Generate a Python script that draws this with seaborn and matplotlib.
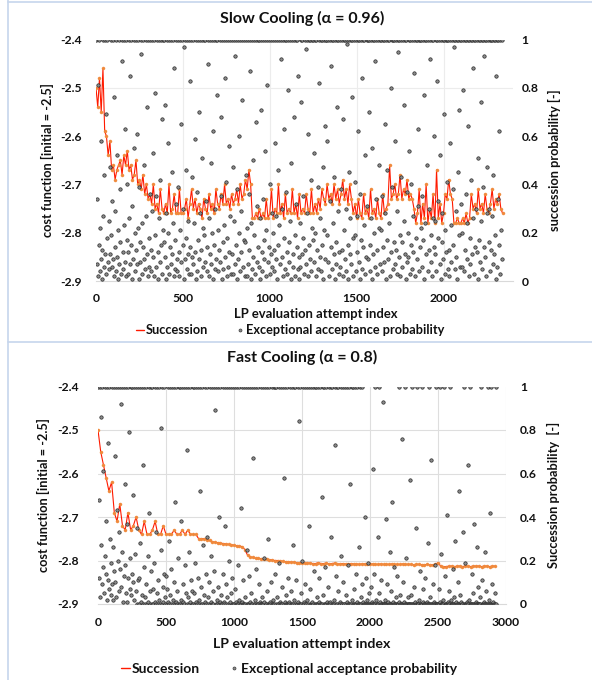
import numpy as np
import matplotlib.pyplot as plt
import seaborn as sns
from matplotlib.lines import Line2D

sns.set_theme(style="white")
plt.rcParams['font.family'] = ['Lato', 'DejaVu Sans']

TEXT = '#111111'
LINE_RED = '#ff1a00'
MARK_ORANGE = '#f08a3c'
DOT_FILL = '#8c8c8c'
DOT_EDGE = '#262626'

# iteration step between stored values
SLOW_COST_STEP = 10
SLOW_PROB_STEP = 3
FAST_COST_STEP = 20
FAST_PROB_STEP = 4

# slow cooling: cost function (succession), every 10th attempt
slow_cost = [
    -2.50, -2.54, -2.48, -2.55, -2.46, -2.59, -2.60, -2.64, -2.61, -2.67,
    -2.66, -2.69, -2.67, -2.66, -2.65, -2.68, -2.64, -2.66, -2.63, -2.67,
    -2.66, -2.69, -2.68, -2.65, -2.70, -2.69, -2.71, -2.68, -2.72, -2.70,
    -2.73, -2.72, -2.74, -2.70, -2.75, -2.74, -2.76, -2.71, -2.75, -2.76,
    -2.74, -2.76, -2.70, -2.76, -2.75, -2.72, -2.76, -2.76, -2.71, -2.76,
    -2.76, -2.75, -2.73, -2.77, -2.74, -2.71, -2.75, -2.73, -2.76, -2.74,
    -2.75, -2.77, -2.73, -2.75, -2.76, -2.72, -2.75, -2.74, -2.76, -2.71,
    -2.74, -2.75, -2.72, -2.74, -2.70, -2.74, -2.73, -2.75, -2.72, -2.74,
    -2.73, -2.71, -2.74, -2.70, -2.73, -2.72, -2.69, -2.71, -2.67, -2.70,
    -2.77, -2.77, -2.76, -2.77, -2.75, -2.77, -2.76, -2.77, -2.73, -2.77,
    -2.76, -2.71, -2.77, -2.75, -2.76, -2.70, -2.76, -2.74, -2.77, -2.72,
    -2.76, -2.75, -2.76, -2.71, -2.76, -2.74, -2.77, -2.72, -2.76, -2.75,
    -2.76, -2.72, -2.75, -2.76, -2.71, -2.76, -2.74, -2.76, -2.73, -2.75,
    -2.71, -2.73, -2.74, -2.70, -2.73, -2.72, -2.74, -2.70, -2.73, -2.71,
    -2.74, -2.72, -2.69, -2.73, -2.71, -2.74, -2.70, -2.73, -2.76, -2.74,
    -2.77, -2.73, -2.76, -2.77, -2.72, -2.76, -2.75, -2.77, -2.71, -2.76,
    -2.75, -2.77, -2.73, -2.76, -2.77, -2.72, -2.76, -2.75, -2.74, -2.66,
    -2.73, -2.72, -2.70, -2.73, -2.72, -2.68, -2.73, -2.71, -2.72, -2.69,
    -2.73, -2.72, -2.73, -2.75, -2.78, -2.76, -2.71, -2.78, -2.74, -2.77,
    -2.70, -2.78, -2.75, -2.77, -2.72, -2.78, -2.67, -2.77, -2.74, -2.78,
    -2.76, -2.72, -2.73, -2.69, -2.72, -2.73, -2.78, -2.78, -2.77, -2.78,
    -2.78, -2.77, -2.78, -2.76, -2.78, -2.77, -2.72, -2.75, -2.74, -2.76,
    -2.71, -2.75, -2.74, -2.76, -2.72, -2.75, -2.76, -2.74, -2.71, -2.75,
    -2.73, -2.74, -2.72, -2.75, -2.76,
]

# slow cooling: exceptional acceptance probability in %, every 3rd attempt
slow_prob_pct = [
    100, 7, 34, 2, 81, 15, 100, 4, 22, 9, 58, 1, 13, 100, 27, 6, 44, 100, 11, 3, 69, 18, 100, 8, 25, 5,
    11, 47, 100, 19, 6, 33, 9, 100, 2, 76, 14, 29, 100, 4, 10, 52, 21, 1, 100, 7, 38, 16, 3, 91, 100, 12,
    5, 23, 100, 63, 8, 2, 100, 17, 40, 12, 3, 100, 26, 85, 7, 15, 100, 1, 31, 9, 55, 100, 20, 4, 13, 100,
    7, 61, 22, 100, 39, 1, 16, 8, 100, 94, 24, 3, 14, 100, 48, 9, 5, 100, 27, 11, 72, 2, 100, 18, 6, 36,
    100, 13, 4, 29, 100, 53, 10, 2, 100, 19, 78, 6, 35, 100, 12, 1, 26, 100, 42, 8, 15, 100, 3, 67, 21, 100,
    16, 100, 73, 10, 1, 28, 100, 6, 20, 57, 100, 3, 14, 7, 100, 45, 11, 24, 100, 2, 88, 17, 5, 100, 32, 9,
    4, 100, 39, 12, 2, 100, 21, 65, 8, 100, 30, 15, 1, 97, 100, 9, 18, 46, 100, 5, 25, 11, 100, 3, 83, 14,
    100, 3, 10, 43, 100, 7, 24, 59, 12, 100, 1, 37, 4, 100, 17, 70, 9, 100, 28, 2, 13, 100, 51, 6, 22, 100,
    19, 8, 100, 33, 4, 14, 100, 90, 26, 2, 100, 11, 49, 7, 100, 20, 1, 62, 100, 15, 5, 30, 100, 9, 77, 100,
    21, 4, 13, 100, 8, 68, 35, 100, 1, 16, 5, 100, 23, 10, 84, 100, 41, 2, 18, 100, 6, 56, 12, 100, 27, 3,
    100, 11, 47, 3, 100, 25, 7, 93, 100, 15, 1, 38, 100, 9, 20, 60, 100, 4, 29, 12, 100, 75, 6, 17, 100, 2,
    16, 44, 100, 2, 22, 100, 7, 36, 13, 100, 87, 1, 24, 100, 5, 50, 10, 100, 19, 3, 100, 66, 31, 8, 100, 14,
    6, 100, 26, 1, 100, 71, 12, 4, 100, 34, 17, 9, 100, 54, 2, 21, 100, 81, 8, 14, 100, 3, 40, 100, 11, 28,
    6, 20, 100, 13, 4, 57, 100, 27, 9, 100, 1, 46, 15, 100, 23, 7, 92, 100, 10, 30, 2, 100, 63, 18, 5, 100,
    37, 100, 12, 3, 79, 100, 16, 8, 100, 25, 1, 49, 100, 11, 6, 100, 68, 19, 2, 100, 32, 14, 100, 85, 5, 10,
    1, 24, 6, 100, 74, 11, 100, 18, 35, 3, 100, 13, 96, 7, 100, 28, 2, 61, 100, 15, 9, 100, 42, 4, 22, 100,
    17, 100, 53, 8, 100, 20, 2, 100, 13, 39, 5, 100, 82, 10, 26, 100, 4, 15, 100, 47, 1, 21, 100, 9, 64, 100,
    100, 19, 58, 100, 8, 2, 33, 100, 14, 89, 100, 5, 24, 100, 11, 43, 1, 100, 16, 7, 100, 72, 29, 100, 3, 12,
    6, 100, 38, 13, 100, 2, 67, 100, 21, 9, 100, 4, 30, 98, 100, 15, 1, 100, 45, 11, 26, 100, 7, 76, 100, 18,
    2, 100, 19, 41, 4, 100, 12, 27, 100, 62, 8, 100, 36, 1, 17, 100, 84, 5, 100, 14, 23, 100, 52, 3, 10, 100,
    31, 100, 9, 70, 100, 15, 4, 100, 26, 1, 55, 100, 11, 20, 100, 91, 6, 34, 100, 13, 3, 100, 48, 22, 7, 100,
    21, 100, 4, 35, 100, 14, 8, 100, 65, 28, 1, 100, 17, 46, 100, 9, 24, 100, 2, 80, 12, 100, 39, 100, 5, 16,
    100, 7, 58, 13, 100, 3, 29, 100, 95, 10, 100, 19, 2, 43, 100, 6, 16, 100, 73, 25, 100, 11, 1, 100, 37, 8,
    10, 20, 100, 54, 3, 100, 15, 40, 100, 5, 27, 12, 100, 86, 2, 100, 18, 9, 100, 31, 63, 100, 4, 14, 100, 22,
    100, 35, 6, 100, 17, 1, 77, 100, 24, 11, 100, 48, 4, 100, 13, 30, 100, 92, 8, 19, 100, 2, 26, 100, 60, 14,
    25, 11, 100, 4, 83, 100, 18, 33, 100, 7, 52, 100, 1, 16, 28, 100, 9, 69, 100, 3, 21, 100, 12, 41, 100, 5,
    100, 13, 2, 57, 100, 23, 8, 100, 38, 15, 100, 97, 5, 100, 29, 10, 100, 1, 45, 100, 19, 71, 100, 6, 32, 100,
    6, 20, 100, 79, 4, 100, 13, 36, 100, 9, 24, 100, 64, 2, 100, 18, 7, 100, 42, 11, 100, 88, 26, 100, 3, 14,
    100, 30, 12, 100, 51, 1, 100, 17, 8, 100, 74, 25, 100, 5, 39, 100, 14, 93, 100, 10, 2, 100, 28, 47, 100, 16,
    30, 100, 4, 100, 13, 27, 100, 7, 44, 100, 11, 19, 100, 85, 1, 100, 6, 34, 100, 15, 62, 100, 3, 21, 100, 9,
]

# fast cooling: cost function (succession), every 20th attempt
fast_cost = [
    -2.50, -2.55, -2.58, -2.61, -2.64, -2.62, -2.69, -2.71, -2.67, -2.72,
    -2.73, -2.69, -2.73, -2.72, -2.70, -2.73, -2.74, -2.71, -2.74, -2.74,
    -2.73, -2.71, -2.74, -2.74, -2.72, -2.74, -2.74, -2.74, -2.73, -2.74,
    -2.74, -2.73, -2.74, -2.73, -2.74, -2.74, -2.74, -2.75, -2.75, -2.75,
    -2.752, -2.754, -2.757, -2.758, -2.759, -2.760, -2.761, -2.762, -2.763, -2.764,
    -2.765, -2.766, -2.767, -2.768, -2.775, -2.788, -2.792, -2.793, -2.795, -2.795,
    -2.796, -2.797, -2.797, -2.798, -2.799, -2.800, -2.800, -2.801, -2.802, -2.803,
    -2.803, -2.804, -2.804, -2.805, -2.805, -2.805, -2.806, -2.806, -2.806, -2.807,
    -2.807, -2.805, -2.807, -2.807, -2.806, -2.808, -2.807, -2.806, -2.808, -2.808,
    -2.807, -2.808, -2.808, -2.807, -2.808, -2.808, -2.809, -2.808, -2.808, -2.809,
    -2.809, -2.808, -2.809, -2.809, -2.808, -2.809, -2.809, -2.809, -2.808, -2.809,
    -2.809, -2.809, -2.808, -2.809, -2.809, -2.809, -2.810, -2.809, -2.809, -2.810,
    -2.810, -2.809, -2.810, -2.810, -2.809, -2.805, -2.813, -2.814, -2.814, -2.813,
    -2.813, -2.814, -2.813, -2.813, -2.814, -2.813, -2.813, -2.814, -2.813, -2.813,
    -2.813, -2.814, -2.813, -2.813, -2.814, -2.813, -2.813,
]

# fast cooling: exceptional acceptance probability in %, every 4th attempt
fast_prob_pct = [
    100, 48, 12, 100, 3, 27, 86, 9, 100, 17, 61, 5, 22, 100, 14, 38, 2, 100, 74, 11, 7, 100, 30, 19, 4,
    100, 9, 26, 2, 100, 15, 68, 10, 100, 3, 43, 20, 100, 6, 33, 100, 16, 8, 92, 100, 24, 1, 13, 100, 55,
    18, 5, 100, 37, 1, 12, 100, 79, 7, 21, 100, 4, 14, 100, 50, 10, 2, 100, 23, 6, 100, 35, 0, 11, 100,
    12, 0, 100, 28, 1, 4, 100, 64, 0, 17, 100, 0, 3, 9, 100, 0, 22, 1, 100, 42, 0, 6, 100, 15, 0,
    100, 0, 7, 19, 100, 1, 0, 33, 100, 5, 0, 11, 100, 2, 0, 25, 81, 100, 0, 8, 1, 100, 14, 0, 3,
    13, 0, 7, 100, 1, 0, 29, 100, 4, 0, 16, 100, 0, 2, 10, 100, 0, 47, 1, 100, 6, 0, 21, 100, 0,
    100, 0, 2, 38, 100, 0, 9, 1, 100, 0, 18, 5, 100, 0, 71, 3, 100, 0, 24, 1, 100, 11, 0, 6, 100,
    0, 100, 5, 0, 19, 100, 1, 0, 12, 100, 0, 2, 52, 100, 0, 8, 0, 100, 27, 4, 0, 100, 1, 14, 0,
    31, 100, 0, 3, 10, 100, 0, 1, 22, 100, 0, 6, 0, 100, 15, 89, 0, 100, 2, 0, 8, 100, 0, 40, 1,
    100, 0, 4, 0, 100, 14, 1, 0, 100, 36, 9, 0, 100, 3, 0, 20, 100, 0, 1, 5, 100, 0, 12, 0, 100,
    0, 7, 100, 0, 1, 0, 100, 18, 0, 2, 100, 0, 0, 44, 100, 1, 0, 11, 100, 0, 3, 0, 100, 25, 0,
    100, 0, 13, 0, 100, 1, 0, 5, 100, 0, 67, 0, 100, 0, 2, 100, 16, 0, 0, 100, 0, 9, 1, 0, 100,
    0, 3, 0, 100, 0, 21, 1, 100, 0, 0, 6, 100, 0, 30, 0, 100, 1, 0, 10, 100, 0, 2, 0, 100, 0,
    100, 14, 0, 100, 3, 0, 0, 100, 19, 1, 0, 100, 0, 8, 0, 100, 58, 0, 1, 100, 4, 0, 0, 100, 12,
    0, 1, 0, 100, 6, 0, 100, 0, 27, 0, 100, 2, 0, 100, 11, 0, 0, 100, 1, 84, 0, 100, 0, 5, 0,
    20, 0, 100, 1, 0, 9, 100, 0, 0, 100, 2, 0, 36, 100, 0, 7, 0, 100, 0, 1, 100, 0, 15, 0, 100,
    0, 100, 3, 0, 0, 100, 12, 1, 0, 100, 0, 49, 0, 100, 4, 0, 100, 0, 17, 0, 100, 1, 0, 8, 100,
    0, 1, 0, 100, 31, 0, 100, 0, 2, 0, 100, 73, 13, 0, 100, 0, 6, 100, 0, 1, 0, 100, 22, 0, 0,
    100, 10, 0, 0, 100, 4, 0, 1, 100, 0, 18, 0, 100, 0, 55, 0, 100, 2, 0, 100, 7, 0, 0, 100, 14,
    0, 1, 100, 0, 26, 0, 100, 0, 3, 0, 100, 9, 0, 1, 0, 40, 0, 12, 0, 2, 0, 0, 19, 0, 5,
    0, 8, 0, 1, 0, 62, 0, 0, 14, 100, 0, 2, 0, 0, 31, 0, 100, 5, 0, 1, 0, 11, 0, 0, 93,
    0, 0, 2, 0, 39, 0, 9, 0, 0, 1, 0, 24, 0, 6, 0, 0, 47, 0, 1, 0, 17, 0, 0, 3, 0,
    13, 0, 0, 100, 1, 0, 4, 0, 0, 76, 0, 10, 0, 1, 0, 100, 0, 21, 0, 0, 3, 0, 0, 57, 0,
    0, 4, 0, 100, 0, 0, 8, 0, 1, 0, 35, 0, 100, 0, 0, 2, 0, 15, 0, 0, 100, 0, 7, 1, 0,
    0, 12, 0, 0, 1, 0, 28, 0, 100, 0, 3, 0, 0, 66, 0, 9, 0, 1, 0, 0, 18, 0, 100, 0, 0,
    0, 7, 0, 100, 1, 0, 23, 0, 0, 2, 0, 100, 0, 13, 0, 0, 41, 0, 1, 0, 6, 0, 100, 0, 2,
    0, 0, 16, 0, 3, 0, 0, 29, 0, 1, 0, 10, 0, 0, 52, 0, 4, 0, 1, 0, 0, 33, 0, 100, 0,
    19, 0, 0, 1, 0, 64, 0, 2, 0, 100, 0, 0, 14, 0, 5, 0, 0, 37, 0, 1, 0, 26, 0, 0, 8,
    0, 0, 3, 0, 100, 0, 11, 0, 0, 1, 0, 24, 0, 0, 6, 0, 100, 0, 2, 0, 42, 0, 0, 100, 0,
    9, 0, 1, 0, 5, 0, 100, 0,
]

cost_ticks = [-2.9, -2.8, -2.7, -2.6, -2.5, -2.4]
cost_labels = ['-2.9', '-2.8', '-2.7', '-2.6', '-2.5', '-2.4']
prob_ticks = [0, 0.2, 0.4, 0.6, 0.8, 1.0]
prob_labels = ['0', '0.2', '0.4', '0.6', '0.8', '1']

W, H = 592, 680


def fig_box(left, top, right, bottom):
    # pixel box -> figure fraction rect
    return [left / W, 1 - bottom / H, (right - left) / W, (bottom - top) / H]


def draw_panel(fig, box, cost, cost_step, prob_pct, prob_step, xmax, hgrid, grid_color,
               title, title_y, right_label, xlabel_xy, xlabel_size,
               legend_xy, legend_size, lpad, rpad):
    ax = fig.add_axes(fig_box(*box))
    ax.set_facecolor('none')

    # grid lines (drawn on the left axis, under the data)
    for gx in range(500, xmax + 1, 500):
        ax.axvline(gx, color=grid_color, lw=0.8, zorder=0)
    for gy in hgrid:
        ax.axhline(gy, color=grid_color, lw=0.8, zorder=0)

    cost_x = np.arange(len(cost)) * cost_step
    sns.lineplot(x=cost_x, y=cost, ax=ax, color=LINE_RED, lw=0.8,
                 marker='o', markersize=2.2, markerfacecolor=MARK_ORANGE,
                 markeredgecolor=MARK_ORANGE, markeredgewidth=0.3,
                 sort=False, estimator=None, zorder=2)

    ax.set_xlim(0, xmax)
    ax.set_ylim(-2.9, -2.4)
    ax.set_xticks(list(range(0, xmax + 1, 500)) if xmax % 500 == 0
                  else list(range(0, xmax, 500)))
    ax.set_yticks(cost_ticks)
    ax.set_yticklabels(cost_labels)
    ax.tick_params(axis='y', length=0, pad=lpad, labelsize=8.7, labelcolor=TEXT)
    ax.tick_params(axis='x', length=0, pad=9, labelsize=8.7, labelcolor=TEXT)
    for lab in ax.get_xticklabels() + ax.get_yticklabels():
        lab.set_fontweight('bold')
    for s in ['top', 'left', 'right']:
        ax.spines[s].set_visible(False)
    ax.spines['bottom'].set_color('#d9d9d9')
    ax.spines['bottom'].set_linewidth(0.8)
    ax.set_ylabel('cost function [initial = -2.5]', fontsize=9.2, fontweight='bold',
                  color=TEXT, labelpad=5)
    ax.set_xlabel('')
    ax.grid(False)

    # probability on the twin axis
    ax2 = ax.twinx()
    prob = np.array(prob_pct) / 100.0
    prob_x = np.arange(len(prob)) * prob_step
    sns.scatterplot(x=prob_x, y=prob, ax=ax2, s=6, color=DOT_FILL,
                    edgecolor=DOT_EDGE, linewidth=0.5, zorder=3)
    ax2.set_ylim(0, 1)
    ax2.set_yticks(prob_ticks)
    ax2.set_yticklabels(prob_labels)
    ax2.tick_params(axis='y', length=0, pad=rpad, labelsize=8.7, labelcolor=TEXT)
    for lab in ax2.get_yticklabels():
        lab.set_fontweight('bold')
    for s in ax2.spines.values():
        s.set_visible(False)
    ax2.set_ylabel(right_label, fontsize=9.2, fontweight='bold', color=TEXT, labelpad=7)
    ax2.grid(False)

    fig.text(302 / W, 1 - title_y / H, title, ha='center', va='center',
             fontsize=11.5, fontweight='bold', color=TEXT)
    fig.text(xlabel_xy[0] / W, 1 - xlabel_xy[1] / H, 'LP evaluation attempt index',
             ha='center', va='center', fontsize=xlabel_size, fontweight='bold', color=TEXT)

    handles = [
        Line2D([], [], color=LINE_RED, lw=1.0),
        Line2D([], [], marker='o', linestyle='none', markersize=2.2,
               markerfacecolor=DOT_FILL, markeredgecolor=DOT_EDGE, markeredgewidth=0.4),
    ]
    fig.legend(handles, ['Succession', 'Exceptional acceptance probability'],
               loc='center', bbox_to_anchor=(legend_xy[0] / W, 1 - legend_xy[1] / H),
               ncol=2, frameon=False, handlelength=0.6, handletextpad=0.15,
               columnspacing=2.2, prop={'size': legend_size, 'weight': 'bold'},
               labelcolor=TEXT)
    return ax, ax2


fig = plt.figure(figsize=(W / 100, H / 100), dpi=100)
fig.patch.set_facecolor('white')

# top panel: slow cooling
draw_panel(fig, (96, 39.5, 513, 281), slow_cost, SLOW_COST_STEP, slow_prob_pct, SLOW_PROB_STEP,
           2400, [-2.5], '#ececec', 'Slow Cooling (α = 0.96)', 18, 'succession probability [-]',
           (316, 314), 9.4, (290, 330), 9.2, 10, 6)

# bottom panel: fast cooling
draw_panel(fig, (98, 386.5, 506, 604), fast_cost, FAST_COST_STEP, fast_prob_pct, FAST_PROB_STEP,
           3000, [-2.5, -2.6, -2.7, -2.8], '#dedede', 'Fast Cooling (α = 0.8)', 357,
           'Succession probability  [-]', (302, 644), 10.2, (289, 669), 10, 14, 10)

# light blue frame lines of the two chart objects
fig.add_artist(Line2D([8 / W, 8 / W], [0, 1], color='#c6d5ec', lw=1.2))
fig.add_artist(Line2D([8 / W, 1], [1 - 342 / H, 1 - 342 / H], color='#c6d5ec', lw=1.2))
fig.add_artist(Line2D([8 / W, 1], [1 - 1.5 / H, 1 - 1.5 / H], color='#c6d5ec', lw=1.2))

fig.savefig('out.png', dpi=100, facecolor='white')
